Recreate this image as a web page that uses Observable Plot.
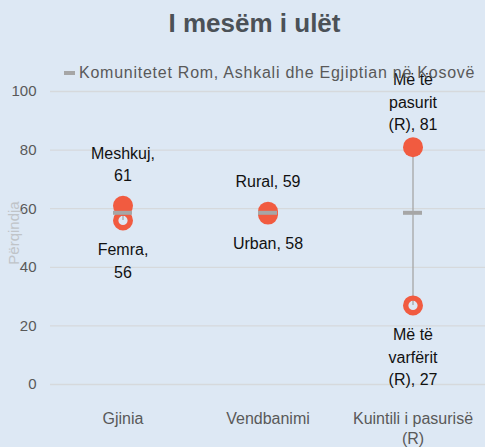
<!DOCTYPE html>
<html>
<head>
<meta charset="utf-8">
<script src="https://cdn.jsdelivr.net/npm/d3@7"></script>
<script src="https://cdn.jsdelivr.net/npm/@observablehq/plot@0.6"></script>
<style>
  html, body { margin: 0; padding: 0; background: #dde8f4; }
  body { width: 485px; height: 447px; position: relative; overflow: hidden; font-family: "Liberation Sans", Arial, sans-serif; }
  #title { height: 56px; box-sizing: border-box; padding-top: 8px; padding-left: 24px; text-align: center; font-size: 26px; line-height: 30px; font-weight: bold; color: #4b5157; }
  #legend { position: absolute; top: 63px; left: 64px; font-size: 16px; line-height: 20px; color: #595959; white-space: nowrap; letter-spacing: 0.75px; }
  #legend .sw { display: inline-block; width: 11px; height: 4px; background: #a6a6a6; vertical-align: middle; margin-right: 4px; position: relative; top: -1px; }
  #chart svg { background: transparent; display: block; }
</style>
</head>
<body>
<div id="title">I mesëm i ulët</div>
<div id="legend"><span class="sw"></span>Komunitetet Rom, Ashkali dhe Egjiptian në Kosovë</div>
<div id="chart"></div>
<script>
const categories = ["Gjinia", "Vendbanimi", "Kuintili i pasurisë (R)"];
const categoryTickLabels = ["Gjinia", "Vendbanimi", "Kuintili i pasurisë\n(R)"];
const highNames = ["Meshkuj,\n", "Rural, ", "Më të\npasurit\n(R), "];
const highValues = [61, 59, 81];
const lowNames = ["Femra,\n", "Urban, ", "Më të\nvarfërit\n(R), "];
const lowValues = [56, 58, 27];
const communityValues = [58.6, 58.6, 58.6];
const yTicks = [0, 20, 40, 60, 80, 100];

const RED = "#f15b40";
const GRAY = "#a6a6a6";
const idx = categories.map((_, i) => i);
const tickLabelOf = new Map(categories.map((c, i) => [c, categoryTickLabels[i]]));

const chart = Plot.plot({
  width: 485,
  height: 391,
  marginTop: 35,
  marginBottom: 63,
  marginLeft: 50,
  marginRight: 0,
  style: { background: "transparent", fontFamily: "Liberation Sans, Arial, sans-serif", overflow: "visible" },
  x: { type: "band", domain: categories, padding: 0 },
  y: { domain: [0, 100] },
  marks: [
    Plot.gridY(yTicks, { stroke: "#d6d9dc", strokeOpacity: 1, strokeWidth: 1.3 }),
    Plot.axisY(yTicks, { tickSize: 0, tickPadding: 14, fontSize: 15, fill: "#595959", label: null }),
    Plot.axisX({ tickSize: 0, tickPadding: 25, fontSize: 16, fill: "#595959", label: null, lineHeight: 1.25, tickFormat: d => tickLabelOf.get(d) }),
    Plot.text(["Përqindja"], { frameAnchor: "left", textAnchor: "middle", rotate: -90, dx: -36, dy: -5, fill: "#c0c4c8", fontSize: 15 }),
    Plot.ruleX(idx, { x: i => categories[i], y1: i => lowValues[i], y2: i => highValues[i], stroke: GRAY, strokeWidth: 1.3 }),
    Plot.dot(idx, { x: i => categories[i], y: i => lowValues[i], r: 7.3, stroke: RED, strokeWidth: 5.4, fill: "none" }),
    Plot.dot(idx, { x: i => categories[i], y: i => highValues[i], r: 10, fill: RED, stroke: "none" }),
    Plot.tickY(idx, { x: i => categories[i], y: i => communityValues[i], stroke: GRAY, strokeWidth: 4, insetLeft: 63, insetRight: 63 }),
    Plot.text(idx.filter(i => i < 2), { x: i => categories[i], y: i => highValues[i], text: i => highNames[i] + highValues[i], lineAnchor: "bottom", dy: -25, fontSize: 16, fill: "#111", lineHeight: 1.38 }),
    Plot.text(idx.filter(i => i === 2), { x: i => categories[i], y: i => highValues[i], text: i => highNames[i] + highValues[i], lineAnchor: "bottom", dy: -17, fontSize: 16, fill: "#111", lineHeight: 1.4 }),
    Plot.text(idx, { x: i => categories[i], y: i => lowValues[i], text: i => lowNames[i] + lowValues[i], lineAnchor: "top", dy: 19, fontSize: 16, fill: "#111", lineHeight: 1.4 })
  ]
});
document.getElementById("chart").appendChild(chart);
</script>
</body>
</html>
